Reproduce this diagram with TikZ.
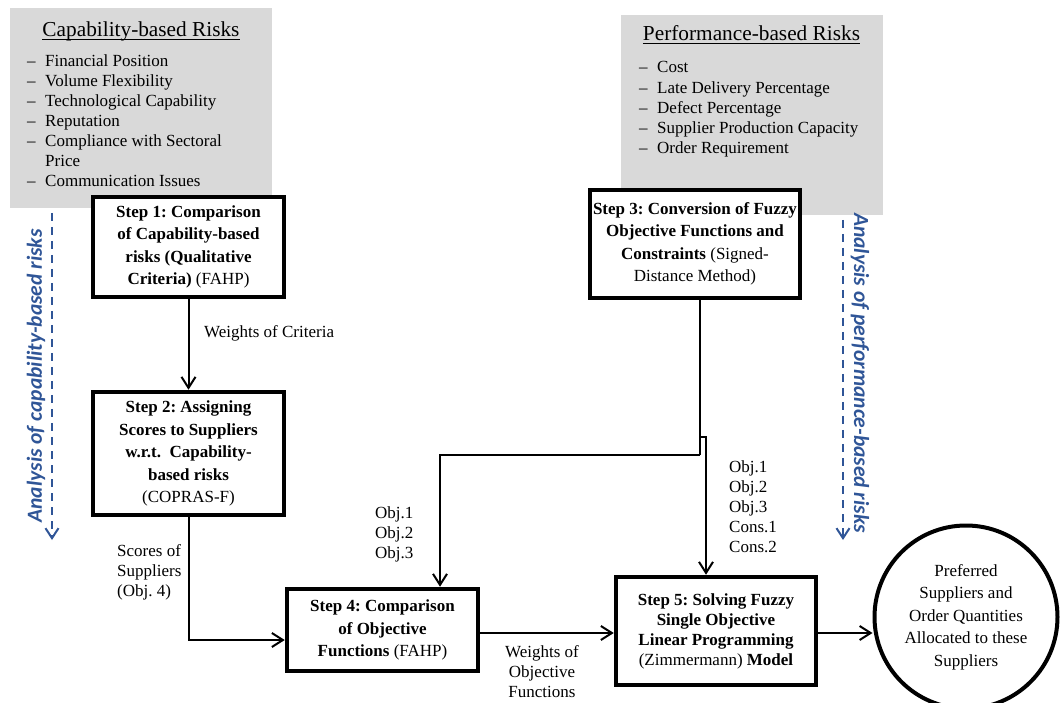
\documentclass[tikz,border=0pt]{standalone}
\usepackage{fontspec}
\setmainfont{Liberation Serif}
\newfontfamily\carlito{Carlito}
\usetikzlibrary{arrows.meta}
\definecolor{riskgray}{RGB}{217,217,217}
\definecolor{analysisblue}{RGB}{47,85,151}
\begin{document}
\frenchspacing
\begin{tikzpicture}[x=1pt,y=-1pt,
  stepbox/.style={draw, line width=4.5pt, fill=white, align=center, inner sep=1pt, font=\fontsize{17}{22.5}\selectfont},
  conn/.style={line width=2pt, -{Straight Barb[length=11pt,width=14pt]}},
  plainline/.style={line width=2pt},
  lbl/.style={inner sep=0pt, font=\fontsize{17}{20}\selectfont},
  itemtxt/.style={inner sep=0pt, anchor=base west, font=\fontsize{17}{20}\selectfont},
  risktitle/.style={inner sep=0pt, anchor=base, font=\fontsize{21.3}{24}\selectfont},
  graybox/.style={fill=riskgray, draw=none},
  analysis/.style={text=analysisblue, inner sep=0pt, font=\carlito\bfseries\itshape\fontsize{21.5}{24}\selectfont},
  bluedash/.style={draw=analysisblue, line width=2pt, dash pattern=on 8pt off 6pt, -{Straight Barb[length=10pt,width=13pt]}}
]
\useasboundingbox (0,0) rectangle (1061,703);

% grey risk panels
\path[graybox] (10,8) rectangle (272,208);
\path[graybox] (621,15) rectangle (883,215);

\node[risktitle] (capt) at (141,37) {Capability-based Risks};
\draw[line width=1.3pt] ([yshift=-2.5pt]capt.base west) -- ([yshift=-2.5pt]capt.base east);
\foreach \yy/\tx in {67/Financial Position, 87/Volume Flexibility, 107/Technological Capability, 127/Reputation, 147/Compliance with Sectoral, 187/Communication Issues}
{ \node[itemtxt] (cd\yy) at (27,\yy) {–}; \node[itemtxt] (ct\yy) at (45,\yy) {\tx}; }
\node[itemtxt] (ctprice) at (45,167) {Price};

\node[risktitle] (perft) at (751.5,41) {Performance-based Risks};
\draw[line width=1.3pt] ([yshift=-2.5pt]perft.base west) -- ([yshift=-2.5pt]perft.base east);
\foreach \yy/\tx in {73/Cost, 94/Late Delivery Percentage, 114/Defect Percentage, 134/Supplier Production Capacity, 154/Order Requirement}
{ \node[itemtxt] (pd\yy) at (639,\yy) {–}; \node[itemtxt] (pt\yy) at (657,\yy) {\tx}; }

% steps
\node[stepbox, minimum width=191pt, minimum height=100pt] (s1) at (188.5,247)
  {\textbf{Step 1: Comparison}\\\textbf{of Capability-based}\\\textbf{risks (Qualitative}\\\textbf{Criteria)} (FAHP)};
\node[stepbox, minimum width=191pt, minimum height=123pt] (s2) at (188.5,453.5)
  {\textbf{Step 2: Assigning}\\\textbf{Scores to Suppliers}\\\textbf{w.r.t.~\ Capability-}\\\textbf{based risks}\\(COPRAS-F)};
\node[stepbox, minimum width=210pt, minimum height=108pt] (s3) at (695,244)
  {\textbf{Step 3: Conversion of Fuzzy}\\\textbf{Objective Functions and}\\\textbf{Constraints} (Signed-\\Distance Method)};
\node[stepbox, minimum width=191pt, minimum height=82pt] (s4) at (382.5,630)
  {\textbf{Step 4: Comparison}\\\textbf{of Objective}\\\textbf{Functions} (FAHP)};
\node[stepbox, minimum width=200pt, minimum height=108pt, font=\fontsize{17}{20}\selectfont] (s5) at (716,631)
  {\textbf{Step 5: Solving Fuzzy}\\\textbf{Single Objective}\\\textbf{Linear Programming}\\(Zimmermann) \textbf{Model}};
\node[draw, circle, line width=4pt, minimum size=183pt, align=center, inner sep=0pt, font=\fontsize{17}{22.5}\selectfont] (out) at (966,617)
  {Preferred\\Suppliers and\\Order Quantities\\Allocated to these\\Suppliers};

% connectors
\draw[conn] (s1.south) -- (s2.north);
\draw[conn] (s2.south) |- ([yshift=-10pt]s4.west);
\coordinate (j1) at (700,455);
\coordinate (j2) at (700,437);
\draw[plainline] ([xshift=5pt]s3.south) -- (j1);
\draw[conn] (j1) -| ([xshift=57.5pt]s4.north);
\draw[conn] (j2) -| ([xshift=-10pt]s5.north);
\draw[conn] ([yshift=-3pt]s4.east) -- ([yshift=-3pt]s4.east -| s5.west);
\draw[conn] ([yshift=-2pt]s5.east) -- ([yshift=-2pt]s5.east -| out.west);

% labels (base anchor = baseline of the last line)
\node[lbl, anchor=base west] (wcrit) at (204,338) {Weights of Criteria};
\node[lbl, anchor=base west, align=left] (objl) at (375,558) {Obj.1\\Obj.2\\Obj.3};
\node[lbl, anchor=base west, align=left] (objr) at (729,552) {Obj.1\\Obj.2\\Obj.3\\Cons.1\\Cons.2};
\node[lbl, anchor=base west, align=left] (scores) at (117,596) {Scores of\\Suppliers\\(Obj. 4)};
\node[lbl, anchor=base, align=center] (wobj) at (542,697) {Weights of\\Objective\\Functions};

% analysis side notes
\node[analysis, rotate=90] (capa) at (36,376) {Analysis of capability-based risks};
\node[analysis, rotate=-90] (perfa) at (860,373) {Analysis of performance-based risks};
\coordinate (cs) at (52,213); \coordinate (ce) at (52,540);
\draw[bluedash] (cs) -- (ce);
\coordinate (ps) at (843,220); \coordinate (pe) at (843,540);
\draw[bluedash] (ps) -- (pe);
\end{tikzpicture}
\end{document}
